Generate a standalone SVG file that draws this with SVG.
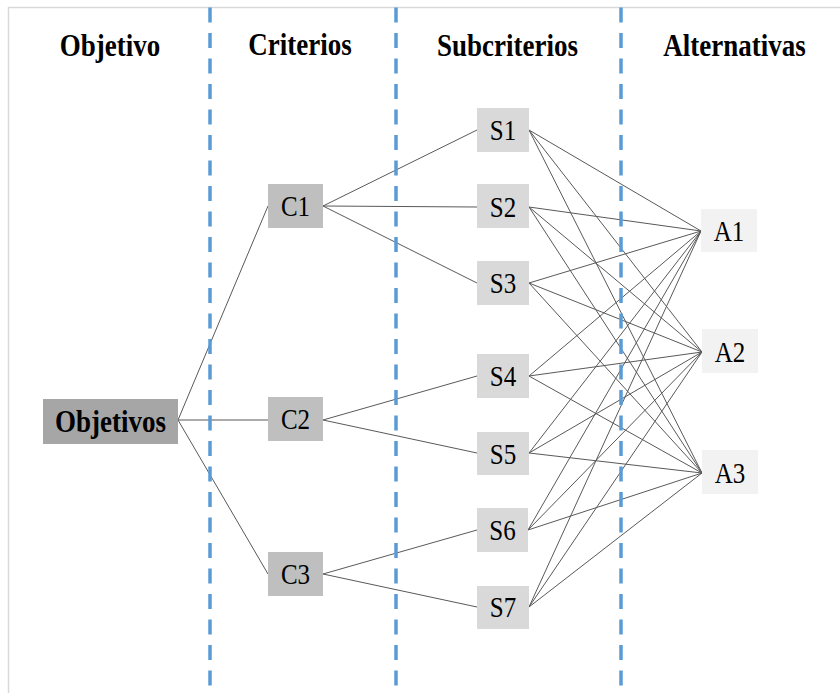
<svg xmlns="http://www.w3.org/2000/svg" width="840" height="693" viewBox="0 0 840 693">
  <defs>
    <style>
      .frame { stroke: #d9d9d9; stroke-width: 1.5; fill: none; }
      .divider { stroke: #5b9bd5; stroke-width: 3.5; stroke-dasharray: 15 10.5; fill: none; }
      .link { stroke: #595959; stroke-width: 1; fill: none; }
      .head { font-family: "Liberation Serif", "Times New Roman", serif; font-weight: bold; font-size: 27px; fill: #000; text-anchor: middle; }
      .lbl { font-family: "Liberation Serif", "Times New Roman", serif; font-size: 25px; fill: #000; text-anchor: middle; }
      .lbl-b { font-family: "Liberation Serif", "Times New Roman", serif; font-weight: bold; font-size: 27px; fill: #000; text-anchor: middle; }
      .goal { fill: #a6a6a6; }
      .crit { fill: #bfbfbf; }
      .sub { fill: #d9d9d9; }
      .alt { fill: #f2f2f2; }
    </style>
  </defs>

  <rect width="840" height="693" fill="#ffffff"/>

  <!-- outer frame (top and left edges) -->
  <path class="frame" d="M8.5 693 V7.5 H840"/>

  <!-- connectors -->
  <g id="connectors">
    <!-- goal to criteria -->
    <line class="link" x1="178" y1="420" x2="268" y2="206"/>
    <line class="link" x1="178" y1="420" x2="268" y2="420"/>
    <line class="link" x1="178" y1="420" x2="268" y2="574"/>
    <!-- criteria to subcriteria -->
    <line class="link" x1="323" y1="206" x2="477" y2="130"/>
    <line class="link" x1="323" y1="206" x2="477" y2="207"/>
    <line class="link" x1="323" y1="206" x2="477" y2="283"/>
    <line class="link" x1="323" y1="420" x2="477" y2="376"/>
    <line class="link" x1="323" y1="420" x2="477" y2="453"/>
    <line class="link" x1="323" y1="574" x2="477" y2="530"/>
    <line class="link" x1="323" y1="574" x2="477" y2="607"/>
    <!-- every subcriterion to every alternative -->
    <g>
      <line class="link" x1="529" y1="130" x2="701" y2="231"/>
      <line class="link" x1="529" y1="130" x2="702" y2="352"/>
      <line class="link" x1="529" y1="130" x2="702" y2="473"/>
      <line class="link" x1="529" y1="207" x2="701" y2="231"/>
      <line class="link" x1="529" y1="207" x2="702" y2="352"/>
      <line class="link" x1="529" y1="207" x2="702" y2="473"/>
      <line class="link" x1="529" y1="283" x2="701" y2="231"/>
      <line class="link" x1="529" y1="283" x2="702" y2="352"/>
      <line class="link" x1="529" y1="283" x2="702" y2="473"/>
      <line class="link" x1="529" y1="376" x2="701" y2="231"/>
      <line class="link" x1="529" y1="376" x2="702" y2="352"/>
      <line class="link" x1="529" y1="376" x2="702" y2="473"/>
      <line class="link" x1="529" y1="453" x2="701" y2="231"/>
      <line class="link" x1="529" y1="453" x2="702" y2="352"/>
      <line class="link" x1="529" y1="453" x2="702" y2="473"/>
      <line class="link" x1="528" y1="530" x2="701" y2="231"/>
      <line class="link" x1="528" y1="530" x2="702" y2="352"/>
      <line class="link" x1="528" y1="530" x2="702" y2="473"/>
      <line class="link" x1="529" y1="607" x2="701" y2="231"/>
      <line class="link" x1="529" y1="607" x2="702" y2="352"/>
      <line class="link" x1="529" y1="607" x2="702" y2="473"/>
    </g>
  </g>

  <!-- column dividers -->
  <g id="dividers">
    <line class="divider" x1="210" y1="7.5" x2="210" y2="693"/>
    <line class="divider" x1="396" y1="7.5" x2="396" y2="693"/>
    <line class="divider" x1="621" y1="7.5" x2="621" y2="693"/>
  </g>

  <!-- column headings -->
  <g id="headings">
    <text class="head" transform="translate(110 56) scale(1 1.2)">Objetivo</text>
    <text class="head" transform="translate(300 55) scale(1 1.2)">Criterios</text>
    <text class="head" transform="translate(507.5 56) scale(1 1.2)">Subcriterios</text>
    <text class="head" transform="translate(734.5 56) scale(1 1.2)">Alternativas</text>
  </g>

  <!-- goal -->
  <g id="objetivos">
    <rect class="goal" x="43" y="399" width="135" height="45"/>
    <text class="lbl-b" transform="translate(110.5 431.5) scale(1 1.18)">Objetivos</text>
  </g>

  <!-- criteria -->
  <g id="c1">
    <rect class="crit" x="268" y="184" width="55" height="44"/>
    <text class="lbl" transform="translate(295.5 215.5) scale(1 1.18)">C1</text>
  </g>
  <g id="c2">
    <rect class="crit" x="268" y="397" width="55" height="44"/>
    <text class="lbl" transform="translate(295.5 429) scale(1 1.18)">C2</text>
  </g>
  <g id="c3">
    <rect class="crit" x="268" y="552" width="55" height="44"/>
    <text class="lbl" transform="translate(295.5 583.5) scale(1 1.18)">C3</text>
  </g>

  <!-- subcriteria -->
  <g id="s1">
    <rect class="sub" x="477" y="108" width="52" height="44"/>
    <text class="lbl" transform="translate(503 139.5) scale(1 1.18)">S1</text>
  </g>
  <g id="s2">
    <rect class="sub" x="477" y="184" width="52" height="44"/>
    <text class="lbl" transform="translate(503 216.5) scale(1 1.18)">S2</text>
  </g>
  <g id="s3">
    <rect class="sub" x="477" y="261" width="52" height="44"/>
    <text class="lbl" transform="translate(503 293) scale(1 1.18)">S3</text>
  </g>
  <g id="s4">
    <rect class="sub" x="477" y="354" width="52" height="44"/>
    <text class="lbl" transform="translate(503 386) scale(1 1.18)">S4</text>
  </g>
  <g id="s5">
    <rect class="sub" x="477" y="432" width="52" height="43"/>
    <text class="lbl" transform="translate(503 463.5) scale(1 1.18)">S5</text>
  </g>
  <g id="s6">
    <rect class="sub" x="477" y="508" width="51" height="44"/>
    <text class="lbl" transform="translate(502.5 540) scale(1 1.18)">S6</text>
  </g>
  <g id="s7">
    <rect class="sub" x="477" y="586" width="52" height="43"/>
    <text class="lbl" transform="translate(503 617) scale(1 1.18)">S7</text>
  </g>

  <!-- alternatives -->
  <g id="a1">
    <rect class="alt" x="701" y="209" width="56" height="43"/>
    <text class="lbl" transform="translate(729 241) scale(1 1.18)">A1</text>
  </g>
  <g id="a2">
    <rect class="alt" x="702" y="329" width="56" height="44"/>
    <text class="lbl" transform="translate(730 361.5) scale(1 1.18)">A2</text>
  </g>
  <g id="a3">
    <rect class="alt" x="702" y="450" width="56" height="44"/>
    <text class="lbl" transform="translate(730 482.5) scale(1 1.18)">A3</text>
  </g>
</svg>
